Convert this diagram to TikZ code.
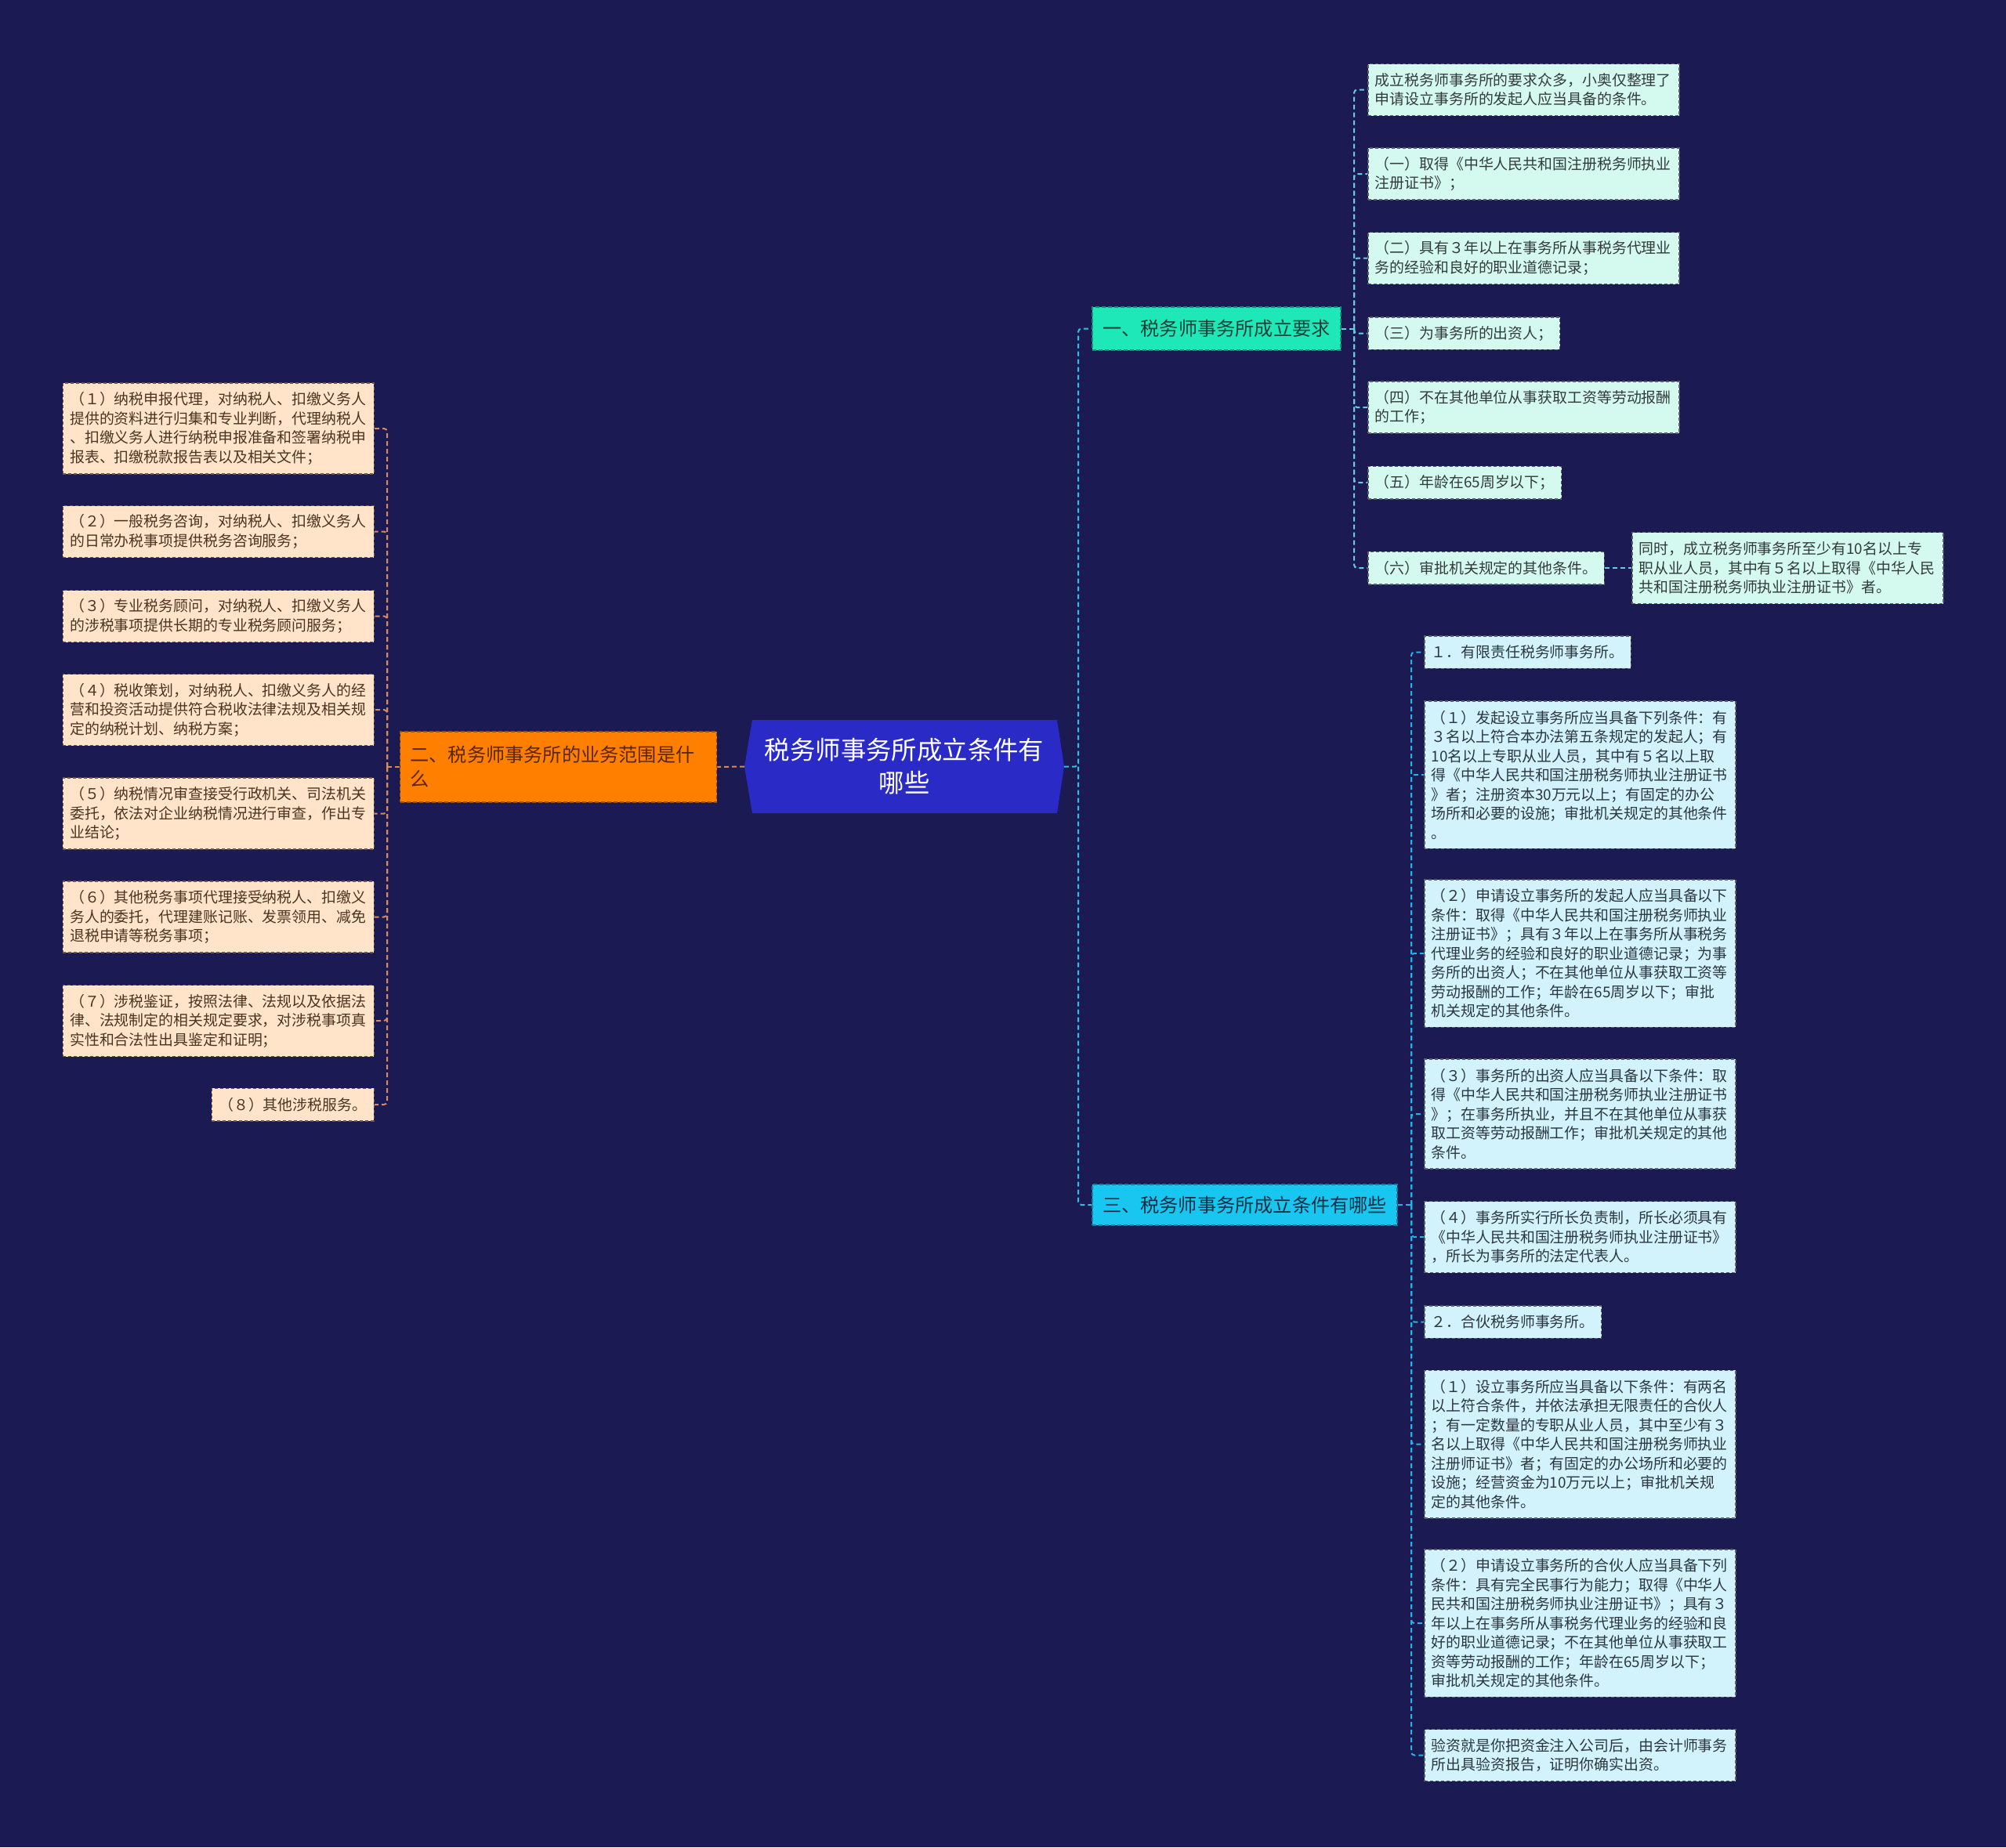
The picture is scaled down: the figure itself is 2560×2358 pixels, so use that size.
\documentclass[tikz,border=0pt]{standalone}
\usepackage{fontspec}
\setmainfont{Noto Sans CJK SC}
\usetikzlibrary{calc}
\definecolor{bg}{HTML}{1B1A52}
\definecolor{cenF}{HTML}{2A2AC6}
\definecolor{aF}{HTML}{1FE8B8}
\definecolor{aD}{HTML}{1A8F78}
\definecolor{aT}{HTML}{183F38}
\definecolor{bF}{HTML}{FF8000}
\definecolor{bD}{HTML}{A04E08}
\definecolor{bT}{HTML}{5A2600}
\definecolor{cF}{HTML}{18C6F0}
\definecolor{cD}{HTML}{157EA0}
\definecolor{cT}{HTML}{0F2F45}
\definecolor{mintF}{HTML}{D4FAF0}
\definecolor{skyF}{HTML}{D2F3FB}
\definecolor{peachF}{HTML}{FFE4CA}
\definecolor{boxD}{HTML}{5A5E66}
\definecolor{peachD}{HTML}{6E5A4C}
\definecolor{mintT}{HTML}{333A3A}
\definecolor{skyT}{HTML}{2C3640}
\definecolor{peachT}{HTML}{4A3420}
\definecolor{conM}{HTML}{2CC3E2}
\definecolor{conA}{HTML}{6CCADE}
\definecolor{conC}{HTML}{22B4E6}
\definecolor{conB}{HTML}{D98A5A}
\begin{document}
\begin{tikzpicture}[x=0.5pt,y=-0.5pt,
  box/.style={anchor=west, align=left, inner xsep=4.5pt, inner ysep=2pt, line width=0.75pt, dash pattern=on 2pt off 1.5pt, font=\fontsize{9.45pt}{12.25pt}\selectfont},
  wide/.style={text width=189.5pt},
  mint/.style={box, fill=mintF, draw=boxD, text=mintT},
  sky/.style={box, fill=skyF, draw=boxD, text=skyT},
  peach/.style={box, anchor=east, fill=peachF, draw=peachD, text=peachT},
  ln1/.style={minimum height=20.75pt},
  ln2/.style={minimum height=33pt},
  ln3/.style={minimum height=45.5pt},
  ln4/.style={minimum height=58pt},
  ln5/.style={minimum height=70pt},
  ln7/.style={minimum height=94.25pt},
  branch/.style={line width=0.75pt, dash pattern=on 2.5pt off 1.5pt, font=\fontsize{12.1pt}{15.5pt}\selectfont, inner xsep=6.5pt, inner ysep=2pt},
  con/.style={line width=1pt, dash pattern=on 3pt off 2pt, rounded corners=2pt}
]
\useasboundingbox (0,0) rectangle (2560,2358);
\fill[bg] (0,0) rectangle (2560,2358);

% central topic
\fill[cenF] (950,978.5) -- (960,919) -- (1349,919) -- (1358,978.5) -- (1349,1038) -- (960,1038) -- cycle;
\node[align=center, text=white, font=\fontsize{16.2pt}{21pt}\selectfont, minimum width=194.5pt, minimum height=59.5pt] (center) at (1154,978.5) {税务师事务所成立条件有\\哪些};
\coordinate (tipL) at (950,978.5);
\coordinate (tipR) at (1358,978.5);
\coordinate (jm) at (1376,978.5);

% main branches
\node[branch, fill=aF, draw=aD, text=aT, minimum width=158.5pt, minimum height=27.5pt] (b1) at (1552.5,419.5) {一、税务师事务所成立要求};
\node[branch, fill=bF, draw=bD, text=bT, text width=189pt, align=left, minimum height=45pt] (b2) at (712.5,979) {二、税务师事务所的业务范围是什\\么};
\node[branch, fill=cF, draw=cD, text=cT, minimum width=194.5pt, minimum height=26pt] (b3) at (1588.5,1538) {三、税务师事务所成立条件有哪些};

% branch 1 children
\node[mint, wide, ln2] (c1) at (1745,114.5) {成立税务师事务所的要求众多，小奥仅整理了\\申请设立事务所的发起人应当具备的条件。};
\node[mint, wide, ln2] (c2) at (1745,222) {（一）取得《中华人民共和国注册税务师执业\\注册证书》；};
\node[mint, wide, ln2] (c3) at (1745,329.5) {（二）具有３年以上在事务所从事税务代理业\\务的经验和良好的职业道德记录；};
\node[mint, ln1] (c4) at (1745,425.5) {（三）为事务所的出资人；};
\node[mint, wide, ln2] (c5) at (1745,520) {（四）不在其他单位从事获取工资等劳动报酬\\的工作；};
\node[mint, ln1] (c6) at (1745,616) {（五）年龄在65周岁以下；};
\node[mint, ln1] (c7) at (1745,725) {（六）审批机关规定的其他条件。};
\node[mint, wide, ln3] (c7x) at (2082,725) {同时，成立税务师事务所至少有10名以上专\\职从业人员，其中有５名以上取得《中华人民\\共和国注册税务师执业注册证书》者。};

% branch 3 children
\node[sky, ln1] (d1) at (1817,832.5) {１．有限责任税务师事务所。};
\node[sky, wide, ln7] (d2) at (1817,989) {（１）发起设立事务所应当具备下列条件：有\\３名以上符合本办法第五条规定的发起人；有\\10名以上专职从业人员，其中有５名以上取\\得《中华人民共和国注册税务师执业注册证书\\》者；注册资本30万元以上；有固定的办公\\场所和必要的设施；审批机关规定的其他条件\\。};
\node[sky, wide, ln7] (d3) at (1817,1217) {（２）申请设立事务所的发起人应当具备以下\\条件：取得《中华人民共和国注册税务师执业\\注册证书》；具有３年以上在事务所从事税务\\代理业务的经验和良好的职业道德记录；为事\\务所的出资人；不在其他单位从事获取工资等\\劳动报酬的工作；年龄在65周岁以下；审批\\机关规定的其他条件。};
\node[sky, wide, ln5] (d4) at (1817,1422) {（３）事务所的出资人应当具备以下条件：取\\得《中华人民共和国注册税务师执业注册证书\\》；在事务所执业，并且不在其他单位从事获\\取工资等劳动报酬工作；审批机关规定的其他\\条件。};
\node[sky, wide, ln3] (d5) at (1817,1579) {（４）事务所实行所长负责制，所长必须具有\\《中华人民共和国注册税务师执业注册证书》\\，所长为事务所的法定代表人。};
\node[sky, ln1] (d6) at (1817,1687.5) {２．合伙税务师事务所。};
\node[sky, wide, ln7] (d7) at (1817,1843.5) {（１）设立事务所应当具备以下条件：有两名\\以上符合条件，并依法承担无限责任的合伙人\\；有一定数量的专职从业人员，其中至少有３\\名以上取得《中华人民共和国注册税务师执业\\注册师证书》者；有固定的办公场所和必要的\\设施；经营资金为10万元以上；审批机关规\\定的其他条件。};
\node[sky, wide, ln7] (d8) at (1817,2072) {（２）申请设立事务所的合伙人应当具备下列\\条件：具有完全民事行为能力；取得《中华人\\民共和国注册税务师执业注册证书》；具有３\\年以上在事务所从事税务代理业务的经验和良\\好的职业道德记录；不在其他单位从事获取工\\资等劳动报酬的工作；年龄在65周岁以下；\\审批机关规定的其他条件。};
\node[sky, wide, ln2] (d9) at (1817,2240.5) {验资就是你把资金注入公司后，由会计师事务\\所出具验资报告，证明你确实出资。};

% branch 2 children
\node[peach, wide, ln4] (e1) at (478,547) {（１）纳税申报代理，对纳税人、扣缴义务人\\提供的资料进行归集和专业判断，代理纳税人\\、扣缴义务人进行纳税申报准备和签署纳税申\\报表、扣缴税款报告表以及相关文件；};
\node[peach, wide, ln2] (e2) at (478,678.5) {（２）一般税务咨询，对纳税人、扣缴义务人\\的日常办税事项提供税务咨询服务；};
\node[peach, wide, ln2] (e3) at (478,786.5) {（３）专业税务顾问，对纳税人、扣缴义务人\\的涉税事项提供长期的专业税务顾问服务；};
\node[peach, wide, ln3] (e4) at (478,906) {（４）税收策划，对纳税人、扣缴义务人的经\\营和投资活动提供符合税收法律法规及相关规\\定的纳税计划、纳税方案；};
\node[peach, wide, ln3] (e5) at (478,1038.5) {（５）纳税情况审查接受行政机关、司法机关\\委托，依法对企业纳税情况进行审查，作出专\\业结论；};
\node[peach, wide, ln3] (e6) at (478,1170.5) {（６）其他税务事项代理接受纳税人、扣缴义\\务人的委托，代理建账记账、发票领用、减免\\退税申请等税务事项；};
\node[peach, wide, ln3] (e7) at (478,1303) {（７）涉税鉴证，按照法律、法规以及依据法\\律、法规制定的相关规定要求，对涉税事项真\\实性和合法性出具鉴定和证明；};
\node[peach, ln1] (e8) at (478,1410) {（８）其他涉税服务。};

% connectors: centre to branches
\draw[con, conM] (tipR) -- (jm) |- (b1.west);
\draw[con, conM] (jm) |- (b3.west);
\draw[con, conB] (tipL) -- (b2.east);

% branch 1 connectors
\coordinate (j1) at (1728,419.5);
\draw[con, conA] (b1.east) -- (j1);
\foreach \n in {c1,c2,c3,c4,c5,c6,c7} \draw[con, conA] (j1) |- (\n.west);
\draw[con, conA] (c7.east) -- (c7x.west);

% branch 3 connectors
\coordinate (j3) at (1801,1538);
\draw[con, conC] (b3.east) -- (j3);
\foreach \n in {d1,d2,d3,d4,d5,d6,d7,d8,d9} \draw[con, conC] (j3) |- (\n.west);

% branch 2 connectors
\coordinate (j2) at (494,979);
\draw[con, conB] (b2.west) -- (j2);
\foreach \n in {e1,e2,e3,e4,e5,e6,e7,e8} \draw[con, conB] (j2) |- (\n.east);
\end{tikzpicture}
\end{document}
